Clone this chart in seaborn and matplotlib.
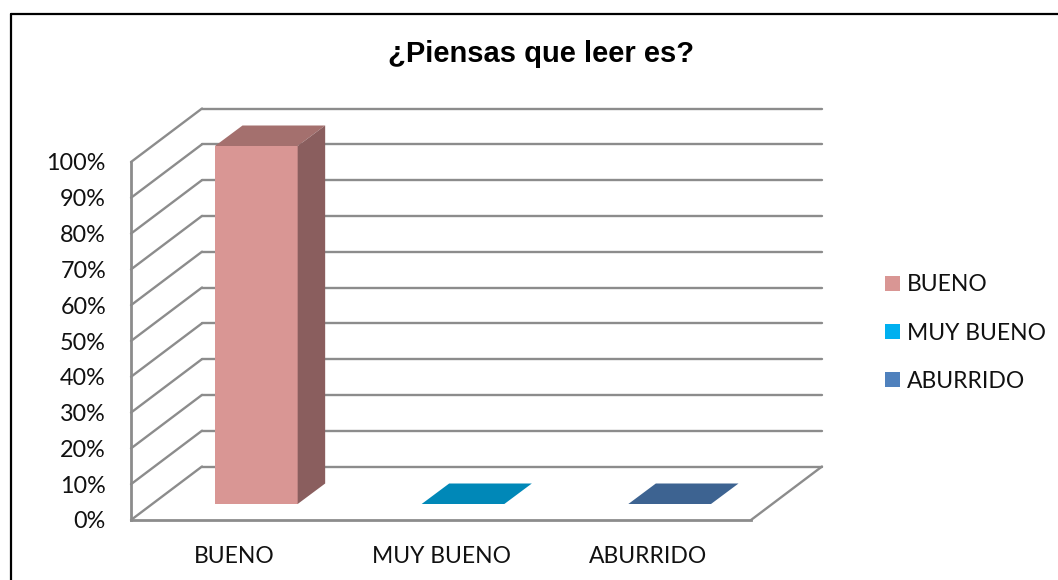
import matplotlib
matplotlib.use('Agg')
import matplotlib.pyplot as plt
from matplotlib.lines import Line2D
from matplotlib.patches import Patch, Polygon
from matplotlib.transforms import offset_copy
import pandas as pd
import seaborn as sns

categorias = ['BUENO', 'MUY BUENO', 'ABURRIDO']
valores = [100, 0, 0]
colores = ['#D99694', '#00B0F0', '#4F81BD']
frente = ['#D99694', '#0088B8', '#3D6391']
lateral = '#8A5E5E'
arriba = ['#A4706E', '#0088B8', '#3D6391']
ticks = list(range(0, 101, 10))
titulo = '¿Piensas que leer es?'

W, H = 1058, 580
gris = '#8C8C8C'
calibri = ['Lato', 'DejaVu Sans']

sns.set_theme(style='white')
plt.rcParams['font.family'] = calibri

fig = plt.figure(figsize=(W/100, H/100), dpi=100)
# plano frontal del grafico, en pixeles de la imagen
ax = fig.add_axes([131/W, 1-520/H, 620/W, 358/H])
df = pd.DataFrame({'cat': categorias, 'val': valores})
sns.barplot(data=df, x='cat', y='val', ax=ax, width=0.4, color=colores[0], saturation=1, zorder=5, linewidth=0)
ax.set_ylim(0, 100)
ax.set_xlim(-0.5, 2.5)
ax.set_xlabel('')
ax.set_ylabel('')
ax.set_yticks(ticks)
ax.set_yticklabels([f'{t}%' for t in ticks], fontsize=16.8, color='#111111')
ax.tick_params(axis='y', length=0, pad=18)
ax.tick_params(axis='x', length=0, pad=19, labelsize=16.5, labelcolor='#111111')
ax.patch.set_alpha(0)
sns.despine(ax=ax, top=True, right=True)
for lado in ['left', 'bottom']:
    ax.spines[lado].set_color(gris)
    ax.spines[lado].set_linewidth(2)

# desplazamientos en puntos (1 px = 0.72 pt)
def desplazado(dx, dy):
    return offset_copy(ax.transData, fig=fig, x=dx*0.72, y=dy*0.72, units='points')

prof_x, prof_y = 71, 53.5
atras = desplazado(prof_x, prof_y)
x0, x1 = ax.get_xlim()
for t in ticks:
    ax.add_line(Line2D([x0, x1], [t, t], transform=atras, color=gris, lw=1.7, zorder=1, clip_on=False))
    # linea oblicua de la pared izquierda
    p0 = ax.transData.transform((x0, t))
    ax.add_line(Line2D([p0[0], p0[0]+prof_x], [p0[1], p0[1]+prof_y], transform=None, color=gris, lw=1.7, zorder=1, clip_on=False))

# piso
p0 = ax.transData.transform((x1, 0))
ax.add_line(Line2D([p0[0], p0[0]+prof_x], [p0[1], p0[1]+prof_y], transform=None, color=gris, lw=1.7, zorder=1, clip_on=False))

# caras de las barras: frente, lado derecho y tapa
fondo_x, fondo_y = 22, 16
caja_x, caja_y = 27.5, 20.5
for i, barra in enumerate(ax.patches):
    barra.set_transform(desplazado(fondo_x, fondo_y))
    barra.set_facecolor(frente[i])
    barra.set_clip_on(False)
    a, b = barra.get_x(), barra.get_x()+barra.get_width()
    alto = barra.get_height()
    tr = desplazado(fondo_x, fondo_y)
    pa = tr.transform((a, alto))
    pb = tr.transform((b, alto))
    pc = tr.transform((b, 0))
    tapa = [pa, pb, pb+[caja_x, caja_y], pa+[caja_x, caja_y]]
    ax.add_patch(Polygon(tapa, transform=None, fc=arriba[i], ec='none', zorder=6, clip_on=False))
    if alto > 0:
        cara = [pb, pc, pc+[caja_x, caja_y], pb+[caja_x, caja_y]]
        ax.add_patch(Polygon(cara, transform=None, fc=lateral, ec='none', zorder=6, clip_on=False))

fig.text(541/W, 1-54/H, titulo, ha='center', va='center', fontsize=21, fontweight='bold',
         family=['Liberation Sans', 'DejaVu Sans'], color='black')

marcas = [Patch(fc=c, ec='none') for c in colores]
fig.legend(marcas, categorias, loc='center left', bbox_to_anchor=(885/W, 1-333/H), frameon=False,
           fontsize=16.5, labelcolor='#111111', handlelength=0.65, handleheight=0.65, handletextpad=0.3,
           labelspacing=1.18, borderpad=0, borderaxespad=0)

# marco exterior: solo arriba e izquierda, el resto queda cortado
fig.add_artist(Line2D([10.5/W, 1], [1-14/H, 1-14/H], transform=fig.transFigure, color='black', lw=1.6))
fig.add_artist(Line2D([10.5/W, 10.5/W], [1-14/H, 0], transform=fig.transFigure, color='black', lw=1.6))

fig.savefig('out.png', dpi=100)
